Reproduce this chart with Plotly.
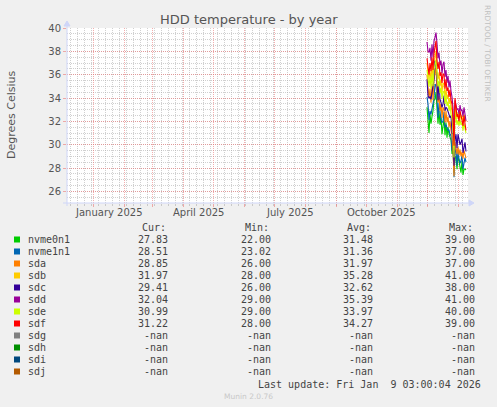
import pandas as pd
import plotly.graph_objects as go

# ---------------- data ----------------
series_names = ["nvme0n1", "nvme1n1", "sda", "sdb", "sdc", "sdd", "sde", "sdf",
                "sdg", "sdh", "sdi", "sdj"]
series_colors = ["#00CC00", "#0066B3", "#FF8000", "#FFCC00", "#330099", "#990099",
                 "#CCFF00", "#FF0000", "#808080", "#008F00", "#00487D", "#B35A00"]

days = pd.date_range("2025-12-01", periods=40, freq="D")

nvme0n1 = [33.2, 31.5, 31.0, 32.6, 31.8, 32.4, 32.9, 33.8, 33.9, 34.5, 33.2, 31.8, 32.9, 31.7,
           32.4, 30.9, 31.6, 32.2, 30.8, 31.9, 30.6, 31.5, 30.9, 30.5, 30.4, 29.2, 29.6, 27.6,
           29.0, 28.9, 27.9, 29.1, 28.3, 28.1, 27.6, 28.6, 27.4, 27.9, 27.9, 27.83]
nvme1n1 = [34.1, 33.5, 32.1, 32.9, 32.6, 33.1, 33.8, 34.0, 35.2, 35.1, 34.0, 32.3, 33.6, 32.4,
           32.1, 31.9, 32.0, 32.8, 31.5, 31.7, 31.4, 31.2, 31.3, 30.8, 30.9, 29.5, 30.3, 27.2,
           29.4, 29.6, 28.2, 29.5, 28.8, 28.4, 28.6, 29.1, 27.9, 28.4, 28.9, 28.51]
sda = [36.0, 35.0, 34.0, 34.8, 33.6, 35.2, 33.8, 35.6, 36.2, 36.6, 34.6, 33.6, 34.2, 32.9,
       33.5, 32.3, 33.2, 33.0, 31.9, 32.9, 31.9, 32.4, 31.5, 32.0, 31.2, 30.8, 29.4, 27.3,
       30.2, 29.6, 29.2, 29.8, 29.1, 29.6, 29.0, 29.4, 28.8, 29.5, 29.0, 28.85]
sdb = [37.0, 36.2, 35.6, 36.4, 35.5, 36.8, 35.7, 37.0, 37.6, 38.0, 36.4, 35.6, 36.2, 35.0,
       35.6, 34.5, 35.3, 35.2, 34.0, 34.8, 33.9, 34.3, 33.5, 34.0, 33.2, 33.0, 31.8, 29.5,
       33.4, 32.7, 32.2, 32.8, 32.3, 32.6, 32.2, 32.5, 31.9, 32.6, 32.2, 31.97]
sdc = [35.6, 34.2, 34.0, 34.1, 33.9, 34.6, 35.1, 35.6, 37.2, 36.9, 35.6, 33.8, 35.4, 33.9,
       33.6, 33.2, 33.5, 34.2, 32.9, 33.2, 33.1, 32.7, 32.6, 32.3, 32.5, 31.0, 30.9, 28.2,
       30.4, 30.9, 29.7, 30.9, 30.3, 30.0, 30.2, 30.5, 29.3, 29.9, 30.2, 29.41]
sdd = [38.8, 38.0, 37.9, 38.3, 37.2, 38.6, 37.5, 38.9, 39.2, 39.6, 38.7, 37.4, 37.9, 36.8,
       37.2, 36.1, 36.9, 37.1, 35.8, 36.4, 35.3, 35.9, 34.9, 35.5, 34.6, 34.1, 33.2, 30.6,
       33.8, 33.4, 33.0, 33.1, 32.6, 33.4, 32.9, 33.0, 32.4, 33.2, 32.7, 32.04]
sde = [36.4, 35.5, 35.0, 35.8, 34.8, 36.1, 35.0, 36.4, 36.9, 37.3, 35.9, 35.0, 35.5, 34.4,
       34.9, 33.9, 34.6, 34.5, 33.5, 34.2, 33.3, 33.7, 32.9, 33.4, 32.6, 32.3, 31.2, 28.9,
       33.0, 32.3, 31.7, 32.1, 31.6, 32.2, 31.7, 31.9, 31.2, 31.8, 31.4, 30.99]
sdf = [37.4, 36.6, 36.0, 37.0, 36.3, 37.5, 36.4, 37.8, 38.6, 38.9, 37.2, 36.5, 37.1, 35.9,
       36.2, 35.3, 36.1, 36.0, 34.8, 35.6, 34.6, 34.9, 34.1, 34.7, 33.8, 33.5, 32.2, 29.9,
       34.0, 33.1, 32.4, 32.6, 32.0, 32.9, 32.3, 32.1, 31.6, 32.5, 31.8, 31.22]
series_values = [nvme0n1, nvme1n1, sda, sdb, sdc, sdd, sde, sdf, None, None, None, None]

cur_vals = ["27.83", "28.51", "28.85", "31.97", "29.41", "32.04", "30.99", "31.22",
            "-nan", "-nan", "-nan", "-nan"]
min_vals = ["22.00", "23.02", "26.00", "28.00", "26.00", "29.00", "29.00", "28.00",
            "-nan", "-nan", "-nan", "-nan"]
avg_vals = ["31.48", "31.36", "31.97", "35.28", "32.62", "35.39", "33.97", "34.27",
            "-nan", "-nan", "-nan", "-nan"]
max_vals = ["39.00", "37.00", "37.00", "41.00", "38.00", "41.00", "40.00", "39.00",
            "-nan", "-nan", "-nan", "-nan"]

month_labels = ["January 2025", "April 2025", "July 2025", "October 2025"]
month_label_starts = ["2025-01-01", "2025-04-01", "2025-07-01", "2025-10-01"]
y_ticks = [26, 28, 30, 32, 34, 36, 38, 40]

x_range = ["2024-12-06", "2026-01-11"]
y_range = [25, 40]

# ---------------- layout geometry ----------------
W, H = 497, 407
ML, MR, MT, MB = 67, 29, 28, 204
PW, PH = W - ML - MR, H - MT - MB
PLOT_BOTTOM = H - MB


def px_x(px):
    return (px - ML) / PW


def px_y(py):
    return (PLOT_BOTTOM - py) / PH


TEXT = "#555555"
AXIS = "#CFD6F8"
MGRID = "rgba(235,120,120,0.6)"
GRID = "rgba(170,170,170,0.55)"

fig = go.Figure()

for name, color, vals in zip(series_names, series_colors, series_values):
    if vals is None:
        continue
    fig.add_trace(go.Scatter(x=days, y=vals, mode="lines", name=name,
                             line=dict(color=color, width=1.1), showlegend=False))

month_starts = pd.date_range("2024-12-01", "2026-01-01", freq="MS")
weeks = pd.date_range("2024-12-02", "2026-01-12", freq="W-MON")

fig.update_xaxes(
    type="date", range=x_range,
    tickmode="array", tickvals=month_starts, showticklabels=False,
    showgrid=True, gridcolor=MGRID, griddash="1px,1px", gridwidth=1,
    ticks="outside", ticklen=3, tickcolor=MGRID,
    showline=False, zeroline=False,
    minor=dict(tickmode="array", tickvals=weeks, showgrid=True,
               gridcolor=GRID, griddash="1px,1px", gridwidth=1,
               ticks="outside", ticklen=2, tickcolor=GRID),
)
fig.update_yaxes(
    range=y_range, tickmode="array", tickvals=y_ticks,
    ticktext=[str(v) for v in y_ticks],
    showgrid=True, gridcolor=MGRID, griddash="1px,1px", gridwidth=1,
    ticks="outside", ticklen=3, tickcolor=MGRID,
    tickfont=dict(family="DejaVu Sans", size=10, color=TEXT),
    showline=False, zeroline=False,
    minor=dict(dtick=0.5, tick0=25, showgrid=True, gridcolor=GRID,
               griddash="1px,1px", gridwidth=1),
)

shapes = []
# axis lines with arrows
shapes.append(dict(type="line", xref="paper", yref="paper",
                   x0=px_x(63), x1=px_x(470), y0=0, y1=0,
                   line=dict(color=AXIS, width=1)))
shapes.append(dict(type="path", xref="paper", yref="paper",
                   path=f"M {px_x(469)} {px_y(200)} L {px_x(474)} {px_y(203)} L {px_x(469)} {px_y(206)} Z",
                   fillcolor=AXIS, line=dict(color=AXIS, width=1)))
shapes.append(dict(type="line", xref="paper", yref="paper",
                   x0=0, x1=0, y0=px_y(206), y1=px_y(24),
                   line=dict(color=AXIS, width=1)))
shapes.append(dict(type="path", xref="paper", yref="paper",
                   path=f"M {px_x(64)} {px_y(26)} L {px_x(67)} {px_y(21)} L {px_x(70)} {px_y(26)} Z",
                   fillcolor=AXIS, line=dict(color=AXIS, width=1)))

annotations = []
# title
annotations.append(dict(text="HDD temperature - by year", xref="paper", yref="paper",
                        x=px_x(249), y=px_y(19), xanchor="center", yanchor="middle",
                        showarrow=False, font=dict(family="DejaVu Sans", size=13, color=TEXT)))
# y title
annotations.append(dict(text="Degrees Celsius", xref="paper", yref="paper",
                        x=px_x(11), y=px_y(115), xanchor="center", yanchor="middle",
                        textangle=-90, showarrow=False,
                        font=dict(family="DejaVu Sans", size=11, color=TEXT)))
# watermark
annotations.append(dict(text="RRDTOOL / TOBI OETIKER", xref="paper", yref="paper",
                        x=px_x(488), y=px_y(53), xanchor="center", yanchor="middle",
                        textangle=90, showarrow=False,
                        font=dict(family="DejaVu Sans", size=7.5, color="#C0C0C0")))
# month labels
for lab, start in zip(month_labels, month_label_starts):
    s = pd.Timestamp(start)
    e = s + pd.DateOffset(months=1)
    mid = s + (e - s) / 2
    annotations.append(dict(text=lab, xref="x", yref="paper", x=mid, y=px_y(212.5),
                            xanchor="center", yanchor="middle", showarrow=False,
                            font=dict(family="DejaVu Sans", size=10, color=TEXT)))

MONO = dict(family="DejaVu Sans Mono", size=10, color="#444444")
col_start = [140, 242.7, 345, 447.3]
col_end = [170, 272.5, 375, 477]
headers = ["Cur:", "Min:", "Avg:", "Max:"]
HEADER_Y = 227.7
ROW0, ROWH = 239.5, 12.0

for hx, htxt in zip(col_start, headers):
    annotations.append(dict(text=htxt, xref="paper", yref="paper", x=px_x(hx), y=px_y(HEADER_Y),
                            xanchor="left", yanchor="middle", showarrow=False, font=MONO))

for i, name in enumerate(series_names):
    ry = ROW0 + i * ROWH
    shapes.append(dict(type="rect", xref="paper", yref="paper",
                       x0=px_x(14), x1=px_x(20), y0=px_y(ry + 3), y1=px_y(ry - 3),
                       fillcolor=series_colors[i], line=dict(width=0)))
    annotations.append(dict(text=name, xref="paper", yref="paper", x=px_x(26), y=px_y(ry),
                            xanchor="left", yanchor="middle", showarrow=False, font=MONO))
    for ce, vals in zip(col_end, [cur_vals, min_vals, avg_vals, max_vals]):
        annotations.append(dict(text=vals[i], xref="paper", yref="paper", x=px_x(ce), y=px_y(ry),
                                xanchor="right", yanchor="middle", showarrow=False, font=MONO))

annotations.append(dict(text="Last update: Fri Jan\u00a0\u00a09 03:00:04 2026",
                        xref="paper", yref="paper", x=px_x(483), y=px_y(384),
                        xanchor="right", yanchor="middle", showarrow=False, font=MONO))
annotations.append(dict(text="Munin 2.0.76", xref="paper", yref="paper",
                        x=px_x(248), y=px_y(396.7), xanchor="center", yanchor="middle",
                        showarrow=False, font=dict(family="DejaVu Sans", size=7.5, color="#C8C8C8")))

fig.update_layout(
    width=W, height=H,
    margin=dict(l=ML, r=MR, t=MT, b=MB, pad=0),
    paper_bgcolor="#F0F0F0", plot_bgcolor="#FFFFFF",
    shapes=shapes, annotations=annotations, showlegend=False,
)

fig.write_html("out.html", config={"displayModeBar": False},
               post_script="document.body.style.margin='0';document.body.style.padding='0';")
